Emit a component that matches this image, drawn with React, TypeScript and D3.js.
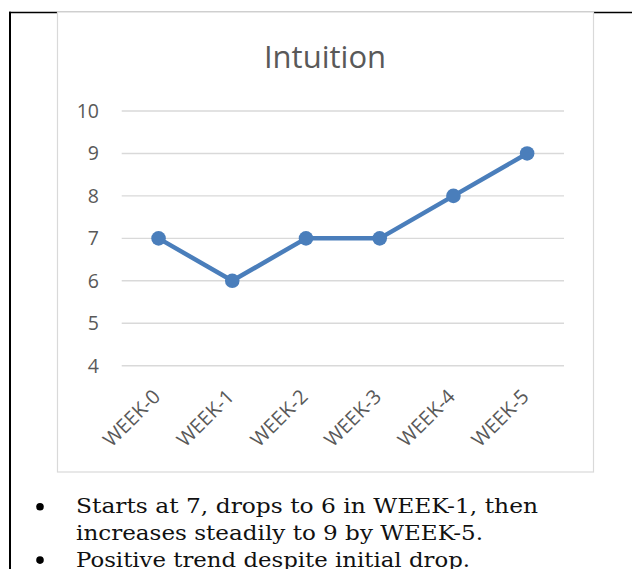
import React from "react";
import * as d3 from "d3";

const weeks = ["WEEK-0", "WEEK-1", "WEEK-2", "WEEK-3", "WEEK-4", "WEEK-5"];
const intuition = [7, 6, 7, 7, 8, 9];
const yTicks = [4, 5, 6, 7, 8, 9, 10];
const title = "Intuition";
const bullets = [
  ["Starts at 7, drops to 6 in WEEK-1, then", "increases steadily to 9 by WEEK-5."],
  ["Positive trend despite initial drop."],
];
const bulletWidths = [[462, 407], [394]];

const W = 632;
const H = 569;
const SANS = "'Open Sans', 'Noto Sans', sans-serif";
const SERIF = "'DejaVu Serif', 'Liberation Serif', serif";

export default function App() {
  const x = d3.scaleBand<string>().domain(weeks).range([121.7, 564]);
  const y = d3.scaleLinear().domain([4, 10]).range([365.7, 111]);
  const cx = (w: string) => (x(w) as number) + x.bandwidth() / 2;
  const line = d3
    .line<number>()
    .x((_, i) => cx(weeks[i]))
    .y((d) => y(d));

  const lineH = 26.7;
  let row = 0;
  const bulletEls: React.ReactNode[] = [];
  bullets.forEach((lines, bi) => {
    const baseY = 513.3 + row * lineH;
    bulletEls.push(<circle key={"b" + bi} cx={40} cy={baseY - 6.6} r={3.8} fill="#000" />);
    lines.forEach((t, li) => {
      bulletEls.push(
        <text
          key={"t" + bi + "-" + li}
          x={76}
          y={513.3 + row * lineH}
          fontFamily={SERIF}
          fontSize={21}
          fill="#111"
          textLength={bulletWidths[bi][li]}
          lengthAdjust="spacingAndGlyphs"
        >
          {t}
        </text>
      );
      row++;
    });
  });

  return (
    <svg
      width={W}
      height={H}
      style={{ position: "absolute", left: 0, top: 0, background: "#fff" }}
    >
      {/* page frame */}
      <line x1={9} x2={W} y1={12.5} y2={12.5} stroke="#000" strokeWidth={1.6} />
      <line x1={10} x2={10} y1={11.7} y2={H} stroke="#000" strokeWidth={2} />
      {/* chart area */}
      <rect x={57.5} y={12} width={536} height={460} fill="#fff" stroke="#d9d9d9" strokeWidth={1.2} />
      <text
        x={325}
        y={67.7}
        textAnchor="middle"
        fontFamily={SANS}
        fontSize={31}
        fill="#595959"
      >
        {title}
      </text>
      {yTicks.map((t) => (
        <g key={t}>
          <line x1={121.7} x2={564} y1={y(t)} y2={y(t)} stroke="#d9d9d9" strokeWidth={1.4} />
          <text
            x={99}
            y={y(t)}
            dy="0.36em"
            textAnchor="end"
            fontFamily={SANS}
            fontSize={19.5}
            fill="#595959"
          >
            {t}
          </text>
        </g>
      ))}
      {weeks.map((w) => (
        <text
          key={w}
          transform={`translate(${cx(w) + 3},398) rotate(-45)`}
          textAnchor="end"
          fontFamily={SANS}
          fontSize={20}
          fill="#595959"
        >
          {w}
        </text>
      ))}
      <path d={line(intuition) || ""} fill="none" stroke="#4a7ebb" strokeWidth={4.5} strokeLinejoin="round" />
      {intuition.map((v, i) => (
        <circle key={i} cx={cx(weeks[i])} cy={y(v)} r={7.3} fill="#4a7ebb" />
      ))}
      {bulletEls}
    </svg>
  );
}
